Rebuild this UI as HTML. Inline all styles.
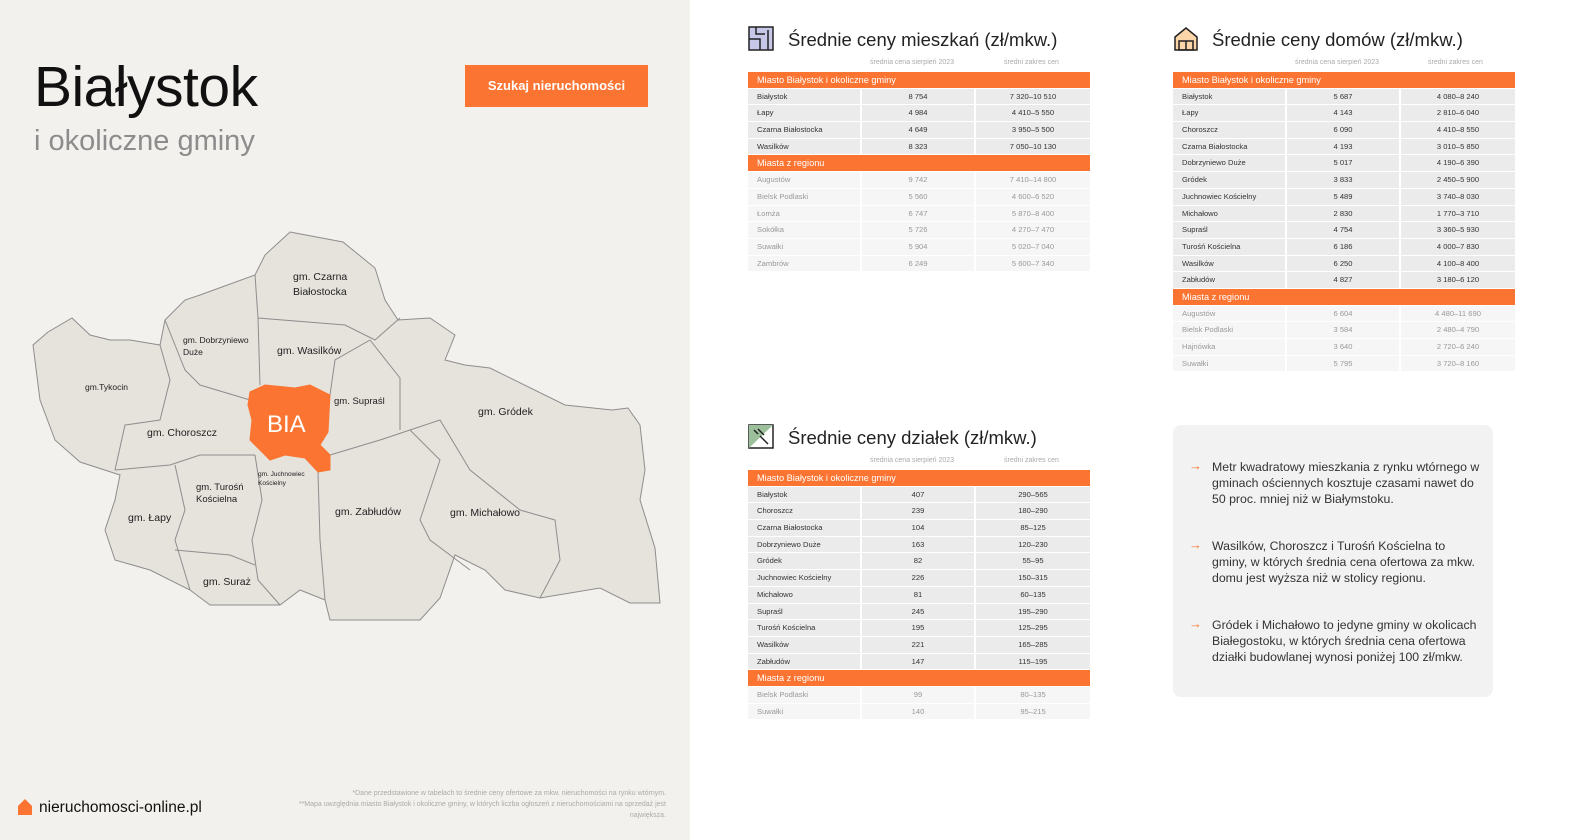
<!DOCTYPE html>
<html><head><meta charset="utf-8">
<style>
*{margin:0;padding:0;box-sizing:border-box}
body{width:1572px;height:840px;position:relative;background:#fff;font-family:"Liberation Sans",sans-serif;overflow:hidden;color:#222}
#left{position:absolute;left:0;top:0;width:690px;height:840px;background:#f3f1ed}
.abs{position:absolute}
.tbl{position:absolute;width:342px;font-size:7.6px;color:#333}
.oh{height:16.7px;background:#fb7431;color:#fff;font-size:9.2px;line-height:16.7px;padding-left:9px;border-bottom:1px solid #fff}
.r{display:flex;height:16.7px;line-height:15.7px;border-bottom:1px solid #fff}
.r div{background:#ebebeb;border-right:2px solid #fff}
.r div:first-child{width:114px;padding-left:9px}
.r div:nth-child(2){width:114px;text-align:center}
.r div:nth-child(3){width:114px;text-align:center;border-right:0}
.r.l div{background:#f6f6f6;color:#999}
.sub{position:absolute;font-size:7px;color:#aaa}
.title{position:absolute;font-size:18.5px;color:#222}
.bul{position:absolute;left:1212px;width:270px;font-size:12.3px;line-height:16px;color:#333}
.arr{position:absolute;left:1189px;color:#fb7431;font-size:13px}
</style></head><body>
<div id="left"></div>
<div class="abs" style="left:34px;top:54px;font-size:57px;color:#111;letter-spacing:-0.5px">Białystok</div>
<div class="abs" style="left:34px;top:125px;font-size:29px;color:#8c8c8c">i okoliczne gminy</div>
<div class="abs" style="left:465px;top:65px;width:183px;height:42px;background:#fb7431;color:#fff;font-weight:bold;font-size:13px;line-height:42px;text-align:center">Szukaj nieruchomości</div>

<svg class="abs" style="left:0;top:0" width="690" height="840">
<polygon fill="#e6e2dc" stroke="#8e8e8e" stroke-width="1" points="290,232 343,242 375,268 385,300 398,320 430,318 455,335 445,360 465,365 490,368 565,405 612,410 628,408 640,425 645,470 640,500 655,548 660,603 630,603 600,588 540,598 505,590 485,570 455,555 440,598 420,620 330,620 325,600 300,590 280,605 210,605 190,590 150,570 115,560 105,530 115,500 120,475 80,462 55,440 40,400 33,345 48,332 72,318 90,335 110,340 130,340 160,345 165,320 185,300 200,295 255,275 265,255"/>
<g fill="none" stroke="#8e8e8e" stroke-width="1">
<polyline points="255,275 258,318 345,325 375,340 400,318"/>
<polyline points="258,318 260,385"/>
<polyline points="330,395 335,360 370,340"/>
<polyline points="370,340 400,378 400,430"/>
<polyline points="330,455 380,440 410,430 440,420 470,470 520,510 555,520 560,560 540,598"/>
<polyline points="410,430 440,460 420,520 430,540 470,570"/>
<polyline points="165,320 175,345 185,370 200,385 250,400"/>
<polyline points="160,345 170,380 160,420 125,425 115,470"/>
<polyline points="115,470 170,465 200,455 255,455"/>
<polyline points="175,465 185,510 175,540 190,590"/>
<polyline points="175,550 230,555 255,565"/>
<polyline points="255,455 262,500 252,540 258,580 280,605"/>
<polyline points="318,472 320,540 325,600"/>
</g>
<polygon fill="#fb7431" stroke="#fb7431" points="250,392 265,385 295,388 310,385 330,395 328,432 320,445 330,455 330,470 318,472 305,458 285,455 270,460 262,452 250,440 252,420 248,405"/>
<text x="267" y="432" font-size="24" fill="#fff" font-family="Liberation Sans">BIA</text>
<g font-family="Liberation Sans" fill="#222" font-size="10.5">
<text x="293" y="280">gm. Czarna</text><text x="293" y="295">Białostocka</text>
<text x="277" y="354">gm. Wasilków</text>
<text x="334" y="404" font-size="9.5">gm. Supraśl</text>
<text x="478" y="415">gm. Gródek</text>
<text x="147" y="436">gm. Choroszcz</text>
<text x="335" y="515">gm. Zabłudów</text>
<text x="450" y="516">gm. Michałowo</text>
<text x="128" y="521">gm. Łapy</text>
<text x="203" y="585">gm. Suraż</text>
<text x="196" y="490" font-size="9.5">gm. Turośń</text><text x="196" y="502" font-size="9.5">Kościelna</text>
<text x="183" y="343" font-size="8.5">gm. Dobrzyniewo</text><text x="183" y="355" font-size="8.5">Duże</text>
<text x="85" y="390" font-size="8.5">gm.Tykocin</text>
<text x="258" y="476" font-size="6.5">gm. Juchnowiec</text><text x="258" y="485" font-size="6.5">Kościelny</text>
</g>
<path d="M18,806 L25,799 L32,806 L32,815 L18,815 Z" fill="#fb7431"/>
</svg>
<div class="abs" style="left:39px;top:799px;font-size:15.5px;color:#111">nieruchomosci-online.pl</div>
<div class="abs" style="left:220px;top:788px;width:446px;text-align:right;font-size:7px;line-height:11px;color:#aaa">*Dane przedstawione w tabelach to średnie ceny ofertowe za mkw. nieruchomości na rynku wtórnym.<br>**Mapa uwzględnia miasto Białystok i okoliczne gminy, w których liczba ogłoszeń z nieruchomościami na sprzedaż jest<br>największa.</div>

<svg class="abs" style="left:748px;top:26px" width="26" height="25"><rect x="1" y="1" width="24" height="23" fill="#c7c7e8" stroke="#222" stroke-width="1.5"/><path d="M1,13 L12,13 L12,24 M8,1 L8,8 L17,8 M20,4 L20,24" stroke="#222" stroke-width="1.5" fill="none"/></svg>
<svg class="abs" style="left:1173px;top:26px" width="26" height="25"><path d="M2,11 L13,2 L24,11 L24,24 L2,24 Z" fill="#fcd5a8" stroke="#222" stroke-width="1.5"/><rect x="6" y="15" width="14" height="9" fill="none" stroke="#222" stroke-width="1.5"/><path d="M13,15 L13,24" stroke="#222" stroke-width="1.5"/></svg>
<svg class="abs" style="left:748px;top:424px" width="26" height="25"><rect x="1" y="1" width="24" height="23" fill="#fff" stroke="#222" stroke-width="1.5"/><path d="M1,24 L1,1 L25,1 Z" fill="#9bc09b"/><path d="M6,6 L10,10 M10,5 L16,11 M12,12 L16,16 M16,16 L20,20" stroke="#222" stroke-width="1.5"/></svg>

<div class="title" style="left:788px;top:29px">Średnie ceny mieszkań (zł/mkw.)</div>
<div class="title" style="left:1212px;top:29px">Średnie ceny domów (zł/mkw.)</div>
<div class="title" style="left:788px;top:427px">Średnie ceny działek (zł/mkw.)</div>

<div class="sub" style="left:870px;top:59px">średnia cena sierpień 2023</div><div class="sub" style="left:1004px;top:59px">średni zakres cen</div>
<div class="sub" style="left:1295px;top:59px">średnia cena sierpień 2023</div><div class="sub" style="left:1428px;top:59px">średni zakres cen</div>
<div class="sub" style="left:870px;top:457px">średnia cena sierpień 2023</div><div class="sub" style="left:1004px;top:457px">średni zakres cen</div>

<div class="tbl" style="left:748px;top:72px">
<div class="oh">Miasto Białystok i okoliczne gminy</div>
<div class="r"><div>Białystok</div><div>8 754</div><div>7 320–10 510</div></div>
<div class="r"><div>Łapy</div><div>4 984</div><div>4 410–5 550</div></div>
<div class="r"><div>Czarna Białostocka</div><div>4 649</div><div>3 950–5 500</div></div>
<div class="r"><div>Wasilków</div><div>8 323</div><div>7 050–10 130</div></div>
<div class="oh">Miasta z regionu</div>
<div class="r l"><div>Augustów</div><div>9 742</div><div>7 410–14 800</div></div>
<div class="r l"><div>Bielsk Podlaski</div><div>5 560</div><div>4 600–6 520</div></div>
<div class="r l"><div>Łomża</div><div>6 747</div><div>5 870–8 400</div></div>
<div class="r l"><div>Sokółka</div><div>5 726</div><div>4 270–7 470</div></div>
<div class="r l"><div>Suwałki</div><div>5 904</div><div>5 020–7 040</div></div>
<div class="r l"><div>Zambrów</div><div>6 249</div><div>5 600–7 340</div></div>
</div>

<div class="tbl" style="left:1173px;top:72px">
<div class="oh">Miasto Białystok i okoliczne gminy</div>
<div class="r"><div>Białystok</div><div>5 687</div><div>4 080–8 240</div></div>
<div class="r"><div>Łapy</div><div>4 143</div><div>2 810–6 040</div></div>
<div class="r"><div>Choroszcz</div><div>6 090</div><div>4 410–8 550</div></div>
<div class="r"><div>Czarna Białostocka</div><div>4 193</div><div>3 010–5 850</div></div>
<div class="r"><div>Dobrzyniewo Duże</div><div>5 017</div><div>4 190–6 390</div></div>
<div class="r"><div>Gródek</div><div>3 833</div><div>2 450–5 900</div></div>
<div class="r"><div>Juchnowiec Kościelny</div><div>5 489</div><div>3 740–8 030</div></div>
<div class="r"><div>Michałowo</div><div>2 830</div><div>1 770–3 710</div></div>
<div class="r"><div>Supraśl</div><div>4 754</div><div>3 360–5 930</div></div>
<div class="r"><div>Turośń Kościelna</div><div>6 186</div><div>4 000–7 830</div></div>
<div class="r"><div>Wasilków</div><div>6 250</div><div>4 100–8 400</div></div>
<div class="r"><div>Zabłudów</div><div>4 827</div><div>3 180–6 120</div></div>
<div class="oh">Miasta z regionu</div>
<div class="r l"><div>Augustów</div><div>6 604</div><div>4 480–11 690</div></div>
<div class="r l"><div>Bielsk Podlaski</div><div>3 584</div><div>2 480–4 790</div></div>
<div class="r l"><div>Hajnówka</div><div>3 640</div><div>2 720–6 240</div></div>
<div class="r l"><div>Suwałki</div><div>5 795</div><div>3 720–8 160</div></div>
</div>

<div class="tbl" style="left:748px;top:470px">
<div class="oh">Miasto Białystok i okoliczne gminy</div>
<div class="r"><div>Białystok</div><div>407</div><div>290–565</div></div>
<div class="r"><div>Choroszcz</div><div>239</div><div>180–290</div></div>
<div class="r"><div>Czarna Białostocka</div><div>104</div><div>85–125</div></div>
<div class="r"><div>Dobrzyniewo Duże</div><div>163</div><div>120–230</div></div>
<div class="r"><div>Gródek</div><div>82</div><div>55–95</div></div>
<div class="r"><div>Juchnowiec Kościelny</div><div>226</div><div>150–315</div></div>
<div class="r"><div>Michałowo</div><div>81</div><div>60–135</div></div>
<div class="r"><div>Supraśl</div><div>245</div><div>195–290</div></div>
<div class="r"><div>Turośń Kościelna</div><div>195</div><div>125–295</div></div>
<div class="r"><div>Wasilków</div><div>221</div><div>165–285</div></div>
<div class="r"><div>Zabłudów</div><div>147</div><div>115–195</div></div>
<div class="oh">Miasta z regionu</div>
<div class="r l"><div>Bielsk Podlaski</div><div>99</div><div>80–135</div></div>
<div class="r l"><div>Suwałki</div><div>140</div><div>95–215</div></div>
</div>

<div class="abs" style="left:1173px;top:425px;width:320px;height:272px;background:#f2f2f2;border-radius:8px"></div>
<div class="arr" style="top:458px">→</div>
<div class="bul" style="top:459px">Metr kwadratowy mieszkania z rynku wtórnego w gminach ościennych kosztuje czasami nawet do 50 proc. mniej niż w Białymstoku.</div>
<div class="arr" style="top:537px">→</div>
<div class="bul" style="top:538px">Wasilków, Choroszcz i Turośń Kościelna to gminy, w których średnia cena ofertowa za mkw. domu jest wyższa niż w stolicy regionu.</div>
<div class="arr" style="top:616px">→</div>
<div class="bul" style="top:617px">Gródek i Michałowo to jedyne gminy w okolicach Białegostoku, w których średnia cena ofertowa działki budowlanej wynosi poniżej 100 zł/mkw.</div>
</body></html>
